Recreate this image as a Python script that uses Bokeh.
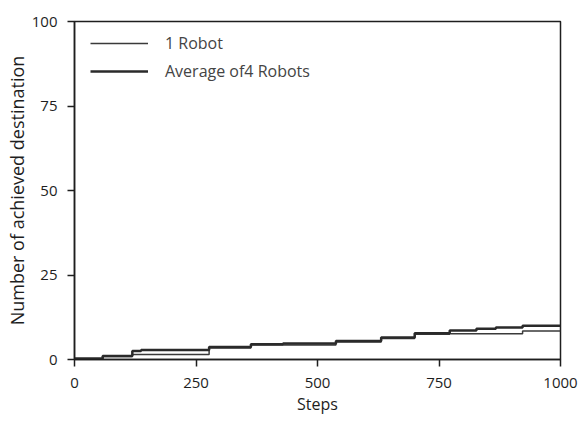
from bokeh.plotting import figure
from bokeh.models import Range1d, Legend, LegendItem, FixedTicker
from bokeh.embed import file_html
from bokeh.resources import INLINE

# Data
robot1_x = [0, 58, 119, 277, 363, 538, 631, 700, 772, 922, 1000]
robot1_y = [0.2, 0.9, 1.5, 3.4, 4.3, 5.2, 6.2, 7.5, 7.6, 8.4, 8.4]

avg_x = [0, 58, 119, 137, 277, 363, 429, 538, 631, 700, 772, 827, 867, 922, 1000]
avg_y = [0.3, 1.0, 2.5, 2.8, 3.7, 4.5, 4.7, 5.5, 6.5, 7.8, 8.6, 9.1, 9.5, 10.0, 10.0]

x_ticks = [0, 250, 500, 750, 1000]
y_ticks = [0, 25, 50, 75, 100]

FONT = "Open Sans"
INK = "#1e1e1e"

p = figure(width=579, height=420, output_backend="svg", toolbar_location=None,
           x_range=Range1d(0, 1000), y_range=Range1d(0, 100),
           min_border_left=74, min_border_right=19, min_border_top=21, min_border_bottom=61)
p.background_fill_color = "white"
p.border_fill_color = "white"
p.outline_line_color = INK
p.outline_line_width = 1.5
p.grid.visible = False

r1 = p.step(robot1_x, robot1_y, mode="after", line_color="#3a3a3a", line_width=1.5)
r2 = p.step(avg_x, avg_y, mode="after", line_color="#2a2a2a", line_width=2.5)

for ax, ticks in ((p.xaxis[0], x_ticks), (p.yaxis[0], y_ticks)):
    ax.ticker = FixedTicker(ticks=ticks)
    ax.minor_tick_line_color = None
    ax.major_tick_out = 7
    ax.major_tick_in = 0
    ax.axis_line_color = INK
    ax.axis_line_width = 1.5
    ax.major_tick_line_color = INK
    ax.major_tick_line_width = 1.5
    ax.major_label_text_font = FONT
    ax.major_label_text_font_size = "15px"
    ax.major_label_text_color = INK
    ax.axis_label_text_font = FONT
    ax.axis_label_text_font_style = "normal"
    ax.axis_label_text_color = INK

p.xaxis.axis_label = "Steps"
p.xaxis.axis_label_text_font_size = "16px"
p.xaxis.major_label_standoff = 11
p.xaxis.axis_label_standoff = 2
p.yaxis.axis_label = "Number of achieved destination"
p.yaxis.axis_label_text_font_size = "18px"
p.yaxis.major_label_standoff = 10
p.yaxis.axis_label_standoff = 0

legend = Legend(items=[LegendItem(label="1 Robot", renderers=[r1]),
                       LegendItem(label="Average of4 Robots", renderers=[r2])],
                location=(16, 277), border_line_color=None,
                background_fill_alpha=0, label_text_font=FONT,
                label_text_font_size="16px", glyph_width=58,
                label_standoff=17, spacing=6, margin=0, padding=8,
                label_height=20, glyph_height=20)
p.add_layout(legend)

open("out.html", "w").write(file_html(p, INLINE))
